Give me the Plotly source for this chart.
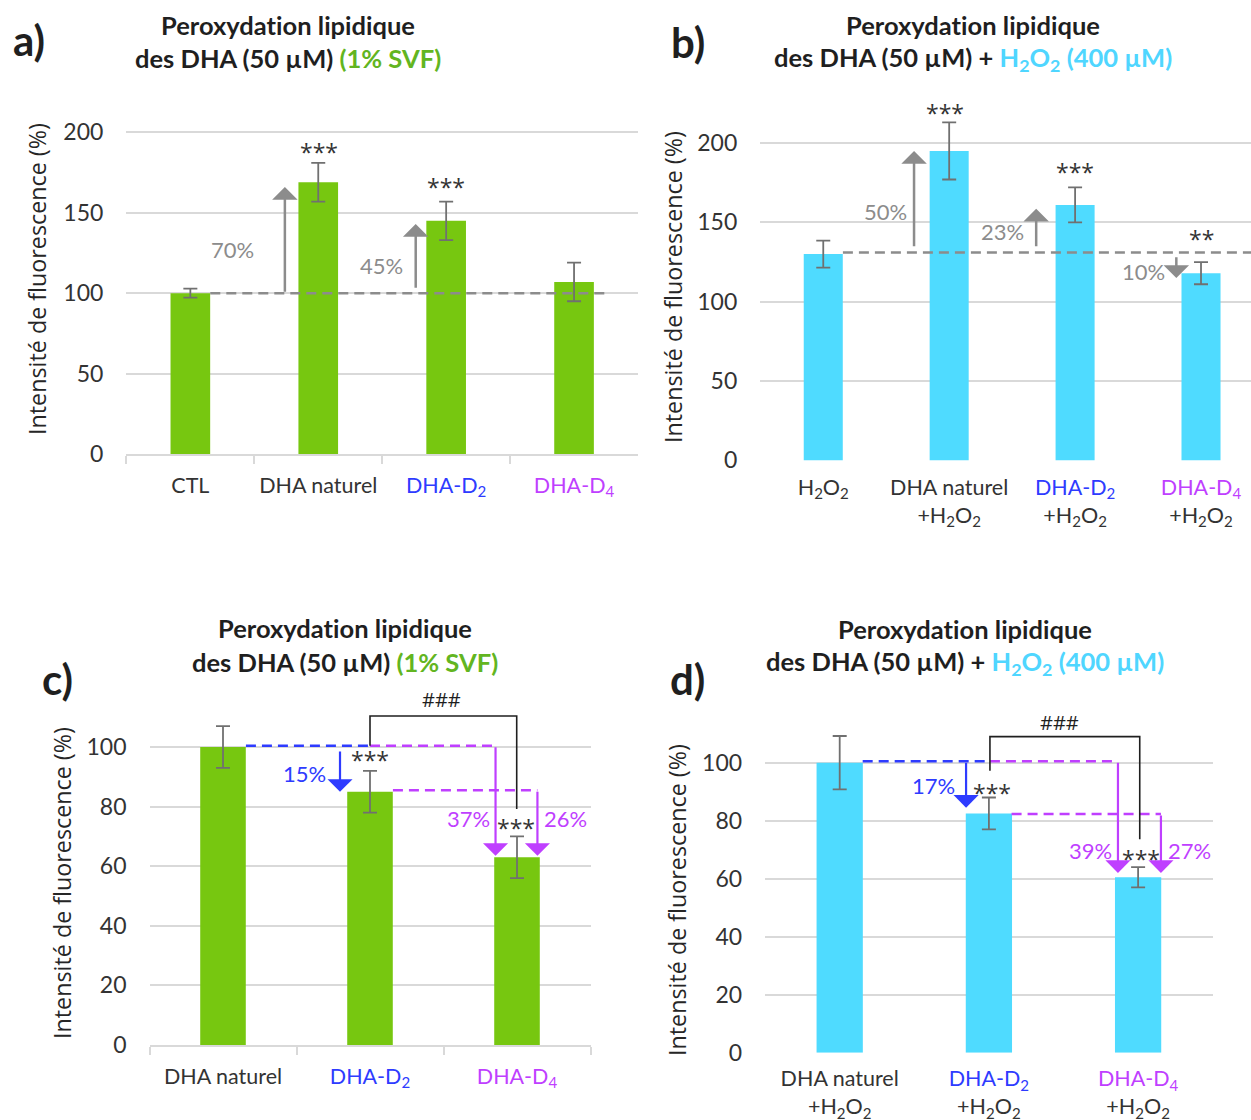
import plotly.graph_objects as go

W, H = 1251, 1120
H_FIG = 1133  # page height actually captured (compensates the observed vertical squeeze)

# ---------------- data ----------------
cats_a = ["CTL", "DHA naturel", "DHA-D2", "DHA-D4"]
vals_a = [100, 169, 145, 107]
err_a = [2.8, 12, 12, 12]
pct_a = ["70%", "45%"]
sig_a = ["", "***", "***", ""]

cats_b = ["H2O2", "DHA naturel +H2O2", "DHA-D2 +H2O2", "DHA-D4 +H2O2"]
vals_b = [130, 195, 161, 118]
err_b = [8.5, 18, 11, 7]
pct_b = ["50%", "23%", "10%"]
sig_b = ["", "***", "***", "**"]

cats_c = ["DHA naturel", "DHA-D2", "DHA-D4"]
vals_c = [100, 85, 63]
err_c = [7, 7, 7]
pct_c = ["15%", "37%", "26%"]
sig_c = ["", "***", "***"]

cats_d = ["DHA naturel +H2O2", "DHA-D2 +H2O2", "DHA-D4 +H2O2"]
vals_d = [100, 82.5, 60.5]
err_d = [9.2, 5.5, 3.5]
pct_d = ["17%", "39%", "27%"]
sig_d = ["", "***", "***"]

hash_label = "###"
yticks_ab = [0, 50, 100, 150, 200]
yticks_cd = [0, 20, 40, 60, 80, 100]
ytitle = "Intensité de fluorescence (%)"
title1 = "Peroxydat\u200cion lipidique"

# ---------------- styles ----------------
GREEN = "#77C710"
CYAN = "#4FDBFF"
BLUE = "#2E3BFF"
PURPLE = "#BF3FFF"
GRAY = "#8C8C8C"
GRID = "#D9D9D9"
ERR = "#707070"
TXT = "#333333"
DARK = "#1F1F1F"
TITLE_GREEN = "#62B521"
TITLE_CYAN = "#4FD6FF"
FONT = "Lato"
FONT2 = "Open Sans"


def sub(s):
    s = s.replace("H2O2", "H<sub>2</sub>O<sub>2</sub>")
    s = s.replace("-D2", "-D<sub>2</sub>").replace("-D4", "-D<sub>4</sub>")
    return s


def fmt(cat):
    parts = cat.split(" +")
    first = parts[0]
    s = sub(first)
    if first.startswith("DHA-D2"):
        s = f"<span style='color:{BLUE}'>{s}</span>"
    elif first.startswith("DHA-D4"):
        s = f"<span style='color:{PURPLE}'>{s}</span>"
    if len(parts) > 1:
        s += "<br>+" + sub(parts[1])
    return s


def px_x(p):
    return p / W


def px_y(p):
    return 1 - p / H


fig = go.Figure()

panels = [
    # name, cats, vals, errs, color, xdomain px, y0 px, ytop px, yrange, yticks, xrange, ticks, standoff
    ("a", cats_a, vals_a, err_a, GREEN, (126.4, 638.0), 454.0, 454.0 - 210 * 1.608, [0, 210], yticks_ab, [-0.5, 3.5], True, 11),
    ("b", cats_b, vals_b, err_b, CYAN, (760.3, 1251.0), 460.4, 460.4 - 240 * 1.587, [0, 240], yticks_ab, [-0.5, 3.397], False, 12),
    ("c", cats_c, vals_c, err_c, GREEN, (149.5, 590.5), 1045.0, 1045.0 - 120 * 2.98, [0, 120], yticks_cd, [-0.5, 2.5], True, 11),
    ("d", cats_d, vals_d, err_d, CYAN, (765.1, 1212.7), 1052.7, 1052.7 - 120 * 2.9, [0, 120], yticks_cd, [-0.5, 2.5], False, 11),
]

layout_axes = {}
for i, (name, cats, vals, errs, col, xd, y0, ytop, yr, ytv, xr, ticks, so) in enumerate(panels):
    k = "" if i == 0 else str(i + 1)
    labels = [fmt(c) for c in cats]
    fig.add_trace(go.Bar(
        x=labels, y=vals, width=0.31, marker=dict(color=col, line=dict(width=0)),
        error_y=dict(type="data", array=errs, visible=True, color=ERR, thickness=1.8, width=7),
        xaxis="x" + k, yaxis="y" + k, showlegend=False, cliponaxis=False,
    ))
    layout_axes["xaxis" + k] = dict(
        domain=[px_x(xd[0]), px_x(xd[1])], anchor="y" + k, type="category",
        range=xr, showgrid=False, zeroline=False,
        showline=ticks, linecolor=GRID, linewidth=2,
        ticks="outside" if ticks else "", tickson="boundaries", ticklen=8,
        tickcolor=GRID, tickwidth=1.5,
        tickfont=dict(family=FONT, size=21.5, color=TXT),
        ticklabelstandoff=so,
        fixedrange=True,
    )
    layout_axes["yaxis" + k] = dict(
        domain=[px_y(y0), px_y(ytop)], anchor="x" + k, range=yr,
        tickmode="array", tickvals=ytv, showgrid=True, gridcolor=GRID, gridwidth=1.5,
        zeroline=False, showline=False, ticks="",
        tickfont=dict(family=FONT, size=23, color=TXT),
        ticklabelstandoff=22, fixedrange=True,
    )

fig.update_layout(**layout_axes)

annotations = []
shapes = []


def text_ann(txt, x, y, xref, yref, size, color, family=FONT, bold=False, xanchor="center", angle=0):
    if bold:
        txt = "<b>" + txt + "</b>"
    annotations.append(dict(text=txt, x=x, y=y, xref=xref, yref=yref, showarrow=False,
                            font=dict(family=family, size=size, color=color),
                            xanchor=xanchor, yanchor="middle", textangle=angle))


def arrow(xr, yr, x, y0, y1, color, width=2.2, size=1.5):
    annotations.append(dict(text="", x=x, y=y1, ax=x, ay=y0, xref=xr, yref=yr, axref=xr, ayref=yr,
                            showarrow=True, arrowhead=1, arrowsize=size, arrowwidth=width,
                            arrowcolor=color, standoff=0, startstandoff=0))


def hline(xr, yr, x0, x1, y, color, dash="10px,6px", width=2.5):
    shapes.append(dict(type="line", xref=xr, yref=yr, x0=x0, x1=x1, y0=y, y1=y,
                       line=dict(color=color, width=width, dash=dash)))


def bracket(xr, yr, xa, xb, ya, ytop, yb, color=DARK):
    shapes.append(dict(type="path", xref=xr, yref=yr,
                       path=f"M {xa},{ya} L {xa},{ytop} L {xb},{ytop} L {xb},{yb}",
                       line=dict(color=color, width=1.6)))


# ---------- titles & panel letters ----------
t2_svf = f"des DHA (50 µM) <span style='color:{TITLE_GREEN}'>(1% SVF)</span>"
t2_h2o2 = f"des DHA (50 µM) + <span style='color:{TITLE_CYAN}'>H<sub>2</sub>O<sub>2</sub> (400 µM)</span>"
for (cx, y1, y2, t2) in [(288, 25, 58.5, t2_svf), (973, 25, 59, t2_h2o2),
                         (345, 628, 662, t2_svf), (964.5, 629, 663, t2_h2o2)]:
    text_ann(title1, px_x(cx), px_y(y1), "paper", "paper", 25.5, DARK, bold=True)
    text_ann(t2, px_x(cx), px_y(y2), "paper", "paper", 25.5, DARK, bold=True)

for (lab, cx, cy) in [("a)", 29, 40), ("b)", 688, 42), ("c)", 57, 679), ("d)", 687, 679)]:
    text_ann(lab, px_x(cx), px_y(cy), "paper", "paper", 42, DARK, bold=True)

# y axis titles
for (cx, cy) in [(37, 279), (673, 287), (62, 883), (677, 900)]:
    text_ann(ytitle, px_x(cx), px_y(cy), "paper", "paper", 23.3, "#262626", family=FONT2, angle=-90)

# ---------- panel a ----------
hline("x", "y", 0.156, 3.247, vals_a[0], GRAY)
arrow("x", "y", 0.739, vals_a[0], vals_a[1] - 3, GRAY, 2.5, 1.7)
arrow("x", "y", 1.762, vals_a[0] + 2.5, vals_a[2] - 2, GRAY, 2.5, 1.7)
text_ann(pct_a[0], 0.333, 127, "x", "y", 22, GRAY)
text_ann(pct_a[1], 1.493, 117.5, "x", "y", 22, GRAY)
star_a = [None, (1.005, 188), (2.0, 166)]
for i, s in enumerate(sig_a):
    if s:
        text_ann(s, star_a[i][0], star_a[i][1], "x", "y", 23, TXT, family=FONT2)

# ---------- panel b ----------
hline("x2", "y2", 0.156, 3.397, vals_b[0] + 1, GRAY)
arrow("x2", "y2", 0.721, vals_b[0] + 4, vals_b[1], GRAY, 2.5, 1.7)
arrow("x2", "y2", 1.691, vals_b[0] + 4, vals_b[2] - 2.5, GRAY, 2.5, 1.7)
arrow("x2", "y2", 2.804, vals_b[0] - 1, vals_b[3] - 3, GRAY, 2.5, 1.7)
text_ann(pct_b[0], 0.497, 157, "x2", "y2", 22, GRAY)
text_ann(pct_b[1], 1.42, 144.4, "x2", "y2", 22, GRAY)
text_ann(pct_b[2], 2.545, 119.3, "x2", "y2", 22, GRAY)
star_b = [None, (0.97, 219), (1.996, 181.5), (3.0, 139.5)]
for i, s in enumerate(sig_b):
    if s:
        text_ann(s, star_b[i][0], star_b[i][1], "x2", "y2", 23, TXT, family=FONT2)

# ---------- panel c ----------
hline("x3", "y3", 0.156, 1.0, vals_c[0] + 0.4, BLUE)
hline("x3", "y3", 1.0, 1.854, vals_c[0] + 0.4, PURPLE)
hline("x3", "y3", 1.156, 2.139, vals_c[1] + 0.5, PURPLE)
bracket("x3", "y3", 1.0, 1.998, vals_c[0] + 0.4, 110.4, 79.2)
arrow("x3", "y3", 0.796, vals_c[0] - 1, vals_c[1], BLUE, 2.2, 1.9)
arrow("x3", "y3", 1.854, vals_c[0] + 0.4, vals_c[2] + 0.5, PURPLE, 2.2, 1.9)
arrow("x3", "y3", 2.139, vals_c[1] + 0.5, vals_c[2] + 0.5, PURPLE, 2.2, 1.9)
text_ann(hash_label, 1.483, 115.8, "x3", "y3", 20, DARK, family=FONT2)
text_ann(pct_c[0], 0.551, 91, "x3", "y3", 22, BLUE)
text_ann(pct_c[1], 1.667, 76, "x3", "y3", 22, PURPLE)
text_ann(pct_c[2], 2.33, 76, "x3", "y3", 22, PURPLE)
star_c = [None, (0.997, 95.6), (1.99, 72.8)]
for i, s in enumerate(sig_c):
    if s:
        text_ann(s, star_c[i][0], star_c[i][1], "x3", "y3", 23, TXT, family=FONT2)

# ---------- panel d ----------
hline("x4", "y4", 0.154, 1.007, vals_d[0] + 0.5, BLUE)
hline("x4", "y4", 1.007, 1.865, vals_d[0] + 0.5, PURPLE)
hline("x4", "y4", 1.152, 2.153, vals_d[1] - 0.2, PURPLE)
bracket("x4", "y4", 1.007, 2.011, 97.2, 109, 73.6)
arrow("x4", "y4", 0.847, vals_d[0] + 0.5, vals_d[1] + 2, BLUE, 2.2, 1.9)
arrow("x4", "y4", 1.865, vals_d[0] + 0.5, vals_d[2] + 1.5, PURPLE, 2.2, 1.9)
arrow("x4", "y4", 2.153, vals_d[1] - 0.2, vals_d[2] + 1.5, PURPLE, 2.2, 1.9)
text_ann(hash_label, 1.47, 113.7, "x4", "y4", 20, DARK, family=FONT2)
text_ann(pct_d[0], 0.629, 92.3, "x4", "y4", 22, BLUE)
text_ann(pct_d[1], 1.678, 69.7, "x4", "y4", 22, PURPLE)
text_ann(pct_d[2], 2.345, 69.7, "x4", "y4", 22, PURPLE)
star_d = [None, (1.021, 89.7), (2.017, 66.7)]
for i, s in enumerate(sig_d):
    if s:
        text_ann(s, star_d[i][0], star_d[i][1], "x4", "y4", 23, TXT, family=FONT2)

fig.update_layout(
    width=W, height=H_FIG, autosize=False,
    margin=dict(l=0, r=0, t=0, b=0),
    paper_bgcolor="white", plot_bgcolor="white",
    annotations=annotations, shapes=shapes, showlegend=False,
    font=dict(family=FONT, color=TXT),
)

post = (
    "document.documentElement.style.margin='0';"
    "document.body.style.margin='0';"
)

fig.write_html("out.html", config={"displayModeBar": False, "responsive": False},
               post_script=post)
